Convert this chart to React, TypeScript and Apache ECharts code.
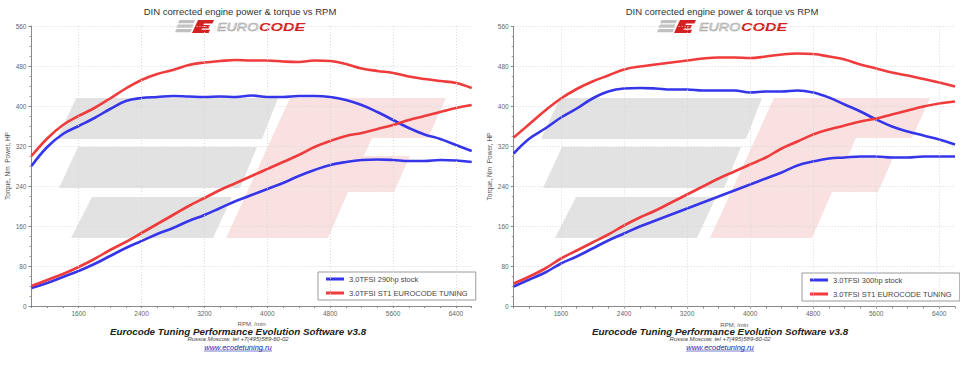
import React, { useEffect, useRef } from "react";
import * as echarts from "echarts";

const rpm = [1000, 1200, 1400, 1600, 1800, 2000, 2200, 2400, 2600, 2800, 3000, 3200, 3400, 3600, 3800, 4000, 4200, 4400, 4600, 4800, 5000, 5200, 5400, 5600, 5800, 6000, 6200, 6400, 6600];
const xLabels = [1600, 2400, 3200, 4000, 4800, 5600, 6400];

// Left chart (290hp stock vs ST1)
const leftStockTorque = [280, 318, 344, 360, 376, 394, 410, 416, 418, 420, 419, 418, 419, 418, 421, 418, 418, 420, 420, 418, 412, 402, 388, 372, 356, 343, 334, 322, 310];
const leftTunedTorque = [300, 335, 362, 380, 396, 415, 435, 452, 464, 472, 482, 487, 490, 492, 491, 491, 489, 488, 491, 490, 484, 475, 470, 466, 459, 454, 450, 446, 436];
const leftStockPower = [36, 46, 58, 70, 84, 100, 116, 130, 144, 156, 170, 182, 196, 210, 222, 234, 246, 260, 272, 282, 288, 292, 293, 292, 290, 290, 292, 291, 288];
const leftTunedPower = [40, 52, 64, 78, 94, 112, 128, 146, 164, 182, 200, 216, 232, 246, 260, 274, 288, 302, 318, 330, 340, 346, 354, 362, 372, 380, 388, 396, 402];

// Right chart (300hp stock vs ST1)
const rightStockTorque = [306, 336, 356, 378, 396, 416, 430, 436, 437, 436, 434, 434, 432, 432, 432, 428, 430, 430, 432, 428, 418, 404, 390, 374, 360, 350, 342, 334, 324];
const rightTunedTorque = [338, 365, 392, 416, 435, 450, 462, 474, 480, 484, 488, 492, 496, 498, 498, 497, 500, 504, 506, 505, 500, 494, 484, 476, 468, 462, 455, 448, 440];
const rightStockPower = [40, 54, 68, 86, 100, 116, 132, 146, 160, 172, 184, 196, 208, 220, 232, 244, 256, 268, 282, 290, 296, 298, 300, 300, 298, 298, 300, 300, 300];
const rightTunedPower = [46, 60, 76, 96, 112, 128, 144, 162, 178, 192, 208, 224, 240, 256, 270, 284, 298, 316, 330, 344, 354, 362, 370, 376, 384, 392, 400, 406, 410];

const leftStockName = "3.0TFSI 290hp stock";
const rightStockName = "3.0TFSI 300hp stock";
const tunedName = "3.0TFSI ST1 EUROCODE TUNING";
const titleText = "DIN corrected engine power & torque vs RPM";
const footer1 = "Eurocode Tuning Performance Evolution Software v3.8";
const footer2 = "Russia Moscow, tel +7(495)589-60-02";
const footer3 = "www.ecodetuning.ru";

const BLUE = "#3535ea";
const RED = "#ef3b3b";
const FONT = '"Liberation Sans", Arial, sans-serif';

function pairs(vals: number[]) {
  return rpm.map((r, i) => [r, vals[i]]);
}

function decor(dx: number, titleX: number, footX: number) {
  const els: any[] = [];
  const gray = "#e2e2e2";
  const stripes = [
    [[76, 98], [278, 98], [262, 139], [57, 139]],
    [[78, 147], [257, 147], [240, 188], [59, 188]],
    [[92, 197], [232, 197], [213, 238], [71, 238]],
  ];
  stripes.forEach((s) => {
    els.push({ type: "polygon", z: -10, silent: true, shape: { points: s.map(([x, y]) => [x + dx, y]) }, style: { fill: gray } });
  });
  const pink = [[226, 238], [290, 98], [446, 98], [428, 138], [372, 138], [364, 156], [410, 156], [394, 192], [348, 192], [328, 238]];
  els.push({ type: "polygon", z: -10, silent: true, shape: { points: pink.map(([x, y]) => [x + dx, y]) }, style: { fill: "#f9e1e1" } });

  // title
  els.push({ type: "text", x: titleX, y: 11, style: { text: titleText, fill: "#333", font: `9.5px ${FONT}`, align: "center", verticalAlign: "middle", textAlign: "center", textVerticalAlign: "middle" } });
  // logo
  const lx = titleX - 65;
  [[0, 20], [0, 24.5], [0, 29]].forEach(([ox, oy], i) => {
    const y0 = oy, y1 = oy + 3.2;
    const x0 = lx + ox + 3 - i * 1.5;
    els.push({ type: "polygon", shape: { points: [[x0 + 1.5, y0], [x0 + 17, y0], [x0 + 15.5, y1], [x0, y1]] }, style: { fill: "#c0c0c0" } });
  });
  const ex = lx + 18;
  const E = [[5, 20], [21, 20], [19.4, 23.6], [11, 23.6], [10.4, 25], [17, 25], [15.5, 28.4], [9, 28.4], [8.4, 29.8], [17, 29.8], [15.6, 33], [-1, 33]];
  els.push({ type: "polygon", shape: { points: E.map(([x, y]) => [x + ex, y]) }, style: { fill: "#d42020" } });
  els.push({ type: "text", x: lx + 42, y: 27, scaleX: 1.3, style: { text: "EURO", fill: "rgba(255,255,255,0)", stroke: "#a8a8a8", lineWidth: 0.6, font: `italic 11px ${FONT}`, align: "left", verticalAlign: "middle", textAlign: "left", textVerticalAlign: "middle" } });
  els.push({ type: "text", x: lx + 84, y: 27, scaleX: 1.45, style: { text: "CODE", fill: "#d42020", font: `italic bold 11px ${FONT}`, align: "left", verticalAlign: "middle", textAlign: "left", textVerticalAlign: "middle" } });

  // footer
  els.push({ type: "text", x: footX, y: 331.5, style: { text: footer1, fill: "#222", font: `italic bold 9.8px ${FONT}`, align: "center", verticalAlign: "middle", textAlign: "center", textVerticalAlign: "middle" } });
  els.push({ type: "text", x: footX, y: 338.8, style: { text: footer2, fill: "#444", font: `italic 6px ${FONT}`, align: "center", verticalAlign: "middle", textAlign: "center", textVerticalAlign: "middle" } });
  els.push({ type: "text", x: footX, y: 347, style: { text: footer3, fill: "#2020a8", font: `italic 7.5px ${FONT}`, align: "center", verticalAlign: "middle", textAlign: "center", textVerticalAlign: "middle" } });
  els.push({ type: "line", shape: { x1: footX - 34, y1: 351, x2: footX + 34, y2: 351 }, style: { stroke: "#2020a8", lineWidth: 0.6 } });
  return els;
}

function xAxisCfg(gridIndex: number) {
  return {
    type: "value",
    gridIndex,
    min: 1000,
    max: 6600,
    interval: 200,
    name: "RPM, /min",
    nameLocation: "middle",
    nameGap: 12.5,
    nameTextStyle: { fontSize: 6, color: "#555", fontFamily: FONT },
    axisLine: { lineStyle: { color: "#888", width: 1 } },
    axisTick: { show: true, length: 2, lineStyle: { color: "#888" } },
    axisLabel: {
      fontSize: 6.5,
      color: "#666",
      fontFamily: FONT,
      margin: 3.5,
      formatter: (v: number) => (xLabels.indexOf(v) >= 0 ? String(v) : ""),
    },
    splitLine: { show: false },
  };
}

function yAxisCfg(gridIndex: number) {
  return {
    type: "value",
    gridIndex,
    min: 0,
    max: 560,
    interval: 80,
    name: "Torque, Nm  Power, HP",
    nameLocation: "middle",
    nameGap: 21,
    nameTextStyle: { fontSize: 6.5, color: "#555", fontFamily: FONT },
    axisLine: { show: true, lineStyle: { color: "#888", width: 1 } },
    axisTick: { show: true, length: 3, lineStyle: { color: "#888" } },
    minorTick: { show: true, splitNumber: 4, length: 2, lineStyle: { color: "#999" } },
    axisLabel: { fontSize: 6.5, color: "#666", fontFamily: FONT, margin: 5 },
    splitLine: { show: true, lineStyle: { color: "#d8d8d8", type: [1, 2], width: 1 } },
  };
}

function line(name: string, idx: number, vals: number[], color: string) {
  return {
    type: "line",
    name,
    xAxisIndex: idx,
    yAxisIndex: idx,
    data: pairs(vals),
    smooth: 0.4,
    symbol: "none",
    z: 3,
    lineStyle: { color, width: 2.6 },
    itemStyle: { color },
  };
}

function gridLines(idx: number) {
  return {
    type: "line",
    xAxisIndex: idx,
    yAxisIndex: idx,
    data: [],
    z: 1,
    silent: true,
    markLine: {
      silent: true,
      symbol: ["none", "none"],
      label: { show: false },
      lineStyle: { color: "#d8d8d8", type: [1, 2], width: 1 },
      data: xLabels.map((v) => ({ xAxis: v })),
    },
  };
}

function legendCfg(names: string[], left: number, top: number) {
  return {
    data: names,
    left,
    top,
    orient: "vertical",
    icon: "rect",
    itemWidth: 18,
    itemHeight: 3,
    itemGap: 4,
    padding: [2, 8, 2, 8],
    borderColor: "#9a9a9a",
    borderWidth: 1,
    backgroundColor: "#fff",
    selectedMode: false,
    textStyle: { fontSize: 7.5, color: "#444", fontFamily: FONT, lineHeight: 10 },
  };
}

export default function App() {
  const ref = useRef<HTMLDivElement>(null);
  useEffect(() => {
    if (!ref.current) return;
    const chart = echarts.init(ref.current, undefined, { renderer: "svg" });
    chart.setOption({
      animation: false,
      backgroundColor: "#fff",
      textStyle: { fontFamily: FONT },
      grid: [
        { left: 31.5, top: 26, width: 440.2, height: 280 },
        { left: 513.7, top: 26.5, width: 441.3, height: 280 },
      ],
      xAxis: [xAxisCfg(0), xAxisCfg(1)],
      yAxis: [yAxisCfg(0), yAxisCfg(1)],
      legend: [
        legendCfg([leftStockName, tunedName], 318, 272),
        legendCfg([rightStockName, tunedName], 802, 273),
      ],
      graphic: { elements: [...decor(0, 240, 238), ...decor(484, 722, 720)] },
      series: [
        gridLines(0),
        gridLines(1),
        line(leftStockName, 0, leftStockTorque, BLUE),
        line(leftStockName, 0, leftStockPower, BLUE),
        line(tunedName, 0, leftTunedTorque, RED),
        line(tunedName, 0, leftTunedPower, RED),
        line(rightStockName, 1, rightStockTorque, BLUE),
        line(rightStockName, 1, rightStockPower, BLUE),
        line(tunedName, 1, rightTunedTorque, RED),
        line(tunedName, 1, rightTunedPower, RED),
      ],
    });
    return () => chart.dispose();
  }, []);
  return <div ref={ref} style={{ position: "fixed", left: 0, top: 0, width: 960, height: 369 }} />;
}
